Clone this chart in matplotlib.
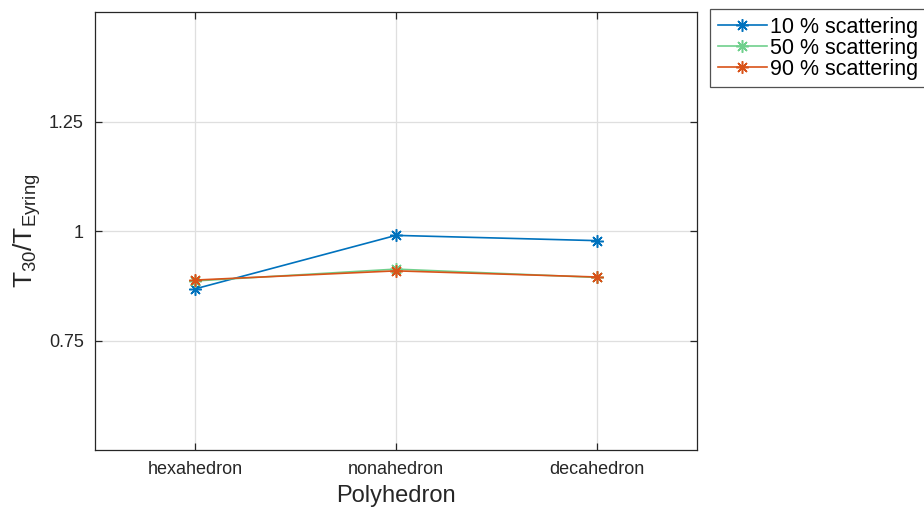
import matplotlib
matplotlib.use("Agg")
import matplotlib.pyplot as plt

plt.rcParams['font.family'] = ['Liberation Sans', 'DejaVu Sans']
plt.rcParams['mathtext.fontset'] = 'custom'
plt.rcParams['mathtext.rm'] = 'Liberation Sans'
plt.rcParams['mathtext.it'] = 'Liberation Sans:italic'
plt.rcParams['mathtext.bf'] = 'Liberation Sans:bold'

categories = ["hexahedron", "nonahedron", "decahedron"]
series_labels = ["10 % scattering", "50 % scattering", "90 % scattering"]
ratio_10 = [0.868, 0.990, 0.978]
ratio_50 = [0.886, 0.913, 0.894]
ratio_90 = [0.888, 0.909, 0.895]
colors = ["#0072BD", "#6FD08C", "#D95319"]
yticks = [0.75, 1.0, 1.25]
ytick_labels = ["0.75", "1", "1.25"]

fig = plt.figure(figsize=(9.24, 5.08), dpi=100)
ax = fig.add_axes([95/924, 1 - 450/508, (697 - 95)/924, (450 - 12)/508])

x = list(range(1, len(categories) + 1))
for vals, lab, c in zip([ratio_10, ratio_50, ratio_90], series_labels, colors):
    ax.plot(x, vals, color=c, lw=1.2, marker=(8, 2, 0), markersize=9,
            markeredgewidth=1.1, label=lab)

ax.set_xlim(0.5, 3.5)
ax.set_ylim(0.5, 1.5)
ax.set_xticks(x)
ax.set_xticklabels(categories)
ax.set_yticks(yticks)
ax.set_yticklabels(ytick_labels)
ax.grid(True, color="#DFDFDF", lw=0.9)
ax.set_axisbelow(True)
ax.tick_params(direction="in", length=5, width=0.9, labelsize=13,
               colors="#262626", top=True, right=True, pad=8)
for s in ax.spines.values():
    s.set_color("#262626")
    s.set_linewidth(0.9)

ax.set_xlabel("Polyhedron", fontsize=17, color="#262626", labelpad=5)
ax.set_ylabel(r"T$_{30}$/T$_{\mathrm{Eyring}}$", fontsize=19, color="#262626", labelpad=4)

leg = fig.legend(loc="upper left", bbox_to_anchor=(710/924, 1 - 9/508),
                 fontsize=15.5, frameon=True, fancybox=False, handlelength=2.3,
                 handletextpad=0.15, borderpad=0.35, labelspacing=0.0,
                 borderaxespad=0)
leg.get_frame().set_edgecolor("#262626")
leg.get_frame().set_linewidth(0.9)

fig.savefig("out.png", dpi=100)
